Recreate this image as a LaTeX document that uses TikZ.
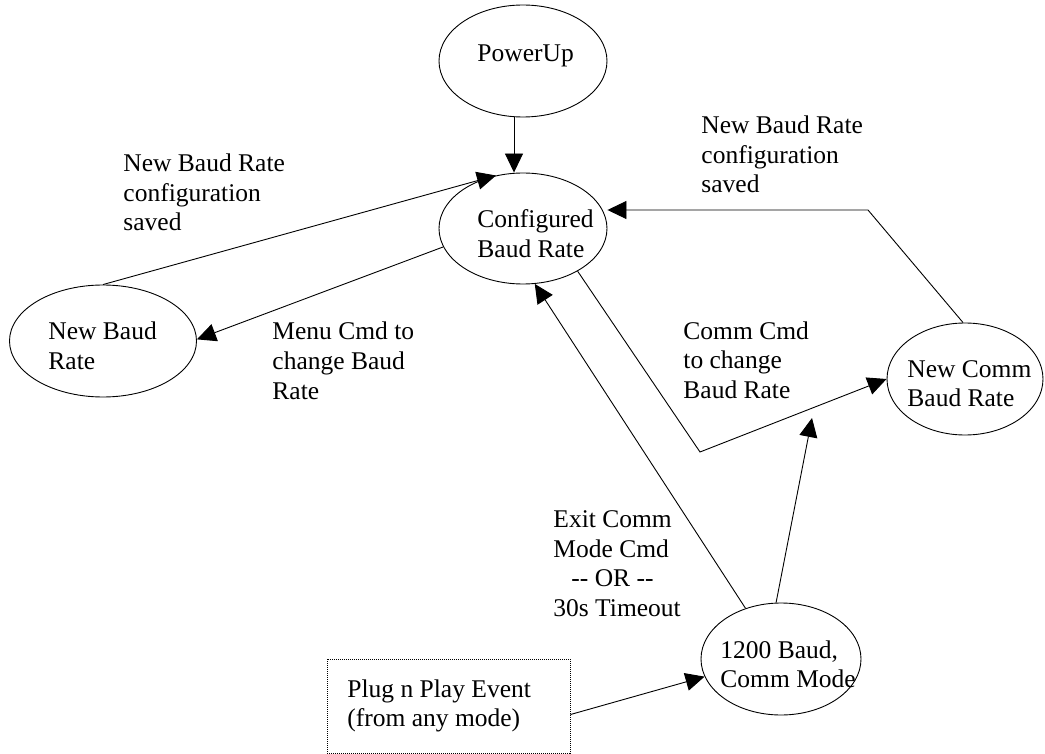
\documentclass[tikz,border=0pt]{standalone}
\usepackage{fontspec}
\setmainfont{Liberation Serif}
\usetikzlibrary{arrows.meta,shapes.geometric}
\begin{document}
\begin{tikzpicture}[x=1pt,y=-1pt, line width=0.9pt,
  state/.style={draw, ellipse, inner sep=0pt},
  lbl/.style={font=\fontsize{25.5}{29.5}\selectfont, align=left, inner sep=0pt, anchor=base west},
  conn/.style={-{Triangle[length=19pt,width=18pt]}}]
\useasboundingbox (0,0) rectangle (1045,754);

% states
\node[state, minimum width=168, minimum height=112] (pu) at (523,61) {};
\node[state, minimum width=168, minimum height=111] (cfg) at (523,228.5) {};
\node[state, minimum width=187, minimum height=112] (nbr) at (103,341) {};
\node[state, minimum width=156, minimum height=112] (ncb) at (965,379) {};
\node[state, minimum width=160, minimum height=112] (cm) at (781,659) {};
\node[draw, dash pattern=on 1pt off 1pt, minimum width=243, minimum height=94, inner sep=0pt] (pnp) at (448.5,706) {};

% state texts (anchor = baseline of the last line)
\node[lbl] (tpu) at (477,62) {PowerUp};
\node[lbl] (tcfg) at (477,257.5) {Configured\\Baud Rate};
\node[lbl] (tnbr) at (48,369.5) {New Baud\\Rate};
\node[lbl] (tncb) at (907,406.5) {New Comm\\Baud Rate};
\node[lbl] (tcm) at (720,687.5) {1200 Baud,\\Comm Mode};
\node[lbl] (tpnp) at (347,726.5) {Plug n Play Event\\(from any mode)};

% edge labels
\node[lbl] (l1) at (123,231) {New Baud Rate\\configuration\\saved};
\node[lbl] (l2) at (272,399) {Menu Cmd to\\change Baud\\Rate};
\node[lbl] (l3) at (701,193) {New Baud Rate\\configuration\\saved};
\node[lbl] (l4) at (683,398) {Comm Cmd\\to change\\Baud Rate};
\node[lbl] (l5) at (553,616) {Exit Comm\\Mode Cmd\\\hspace*{18pt}-{}- OR -{}-\\30s Timeout};

% connectors
\draw[conn] ([xshift=-9pt]pu.south) -- ([xshift=-9pt]cfg.north);
\draw[conn] (nbr.90) -- (cfg.117);
\draw[conn] (cfg.193) -- (nbr.1);
\coordinate (c1) at (868,210);
\draw[conn] (ncb.92) -- (c1) -- (c1 -| cfg.east);
\coordinate (c2) at (700,452);
\draw[conn] (cfg.-38) -- (c2) -- (ncb.180);
\draw[conn] (cm.125) -- (cfg.-78);
\coordinate (c3) at (812,418);
\draw[conn] (cm.95) -- (c3);
\draw[conn] (pnp.-4) -- (cm.193);
\end{tikzpicture}
\end{document}
